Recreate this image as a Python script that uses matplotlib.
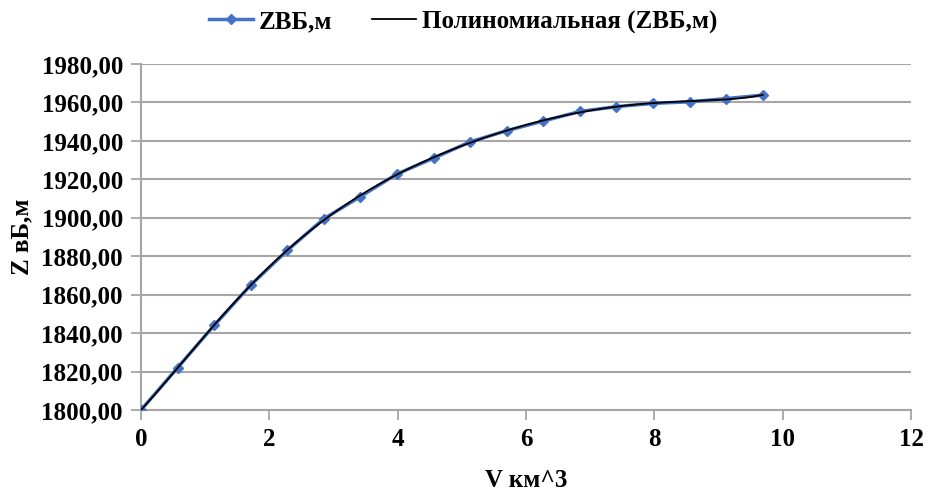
import matplotlib.pyplot as plt
import numpy as np

# объём водохранилища, км^3
v_km3 = [0.00, 0.57, 1.14, 1.71, 2.28, 2.85, 3.42, 3.99, 4.56, 5.13,
         5.70, 6.27, 6.84, 7.41, 7.98, 8.55, 9.12, 9.69]
# отметка ВБ, м
z_vb = [1800.0, 1822.0, 1844.0, 1865.0, 1883.0, 1899.5, 1911.0, 1922.8, 1931.0,
        1939.5, 1945.3, 1950.3, 1955.3, 1957.8, 1959.5, 1960.3, 1962.0, 1963.8]

y_ticks = np.arange(1800, 1981, 20)
x_ticks = np.arange(0, 13, 2)

plt.rcParams['font.family'] = ['Liberation Serif', 'DejaVu Serif']
plt.rcParams['font.weight'] = 'bold'

fig = plt.figure(figsize=(9.32, 4.92), dpi=100)
ax = fig.add_axes([0.1513, 0.1667, 0.8262, 0.7033])

blue = '#4472C4'
grid_c = '#A6A6A6'

ax.plot(v_km3, z_vb, color=blue, lw=2.5, marker='D', ms=5.5, label='ZВБ,м', zorder=3)

# полиномиальная линия тренда (степень 6, как в Excel)
coef = np.polyfit(v_km3, z_vb, 6)
xs = np.linspace(v_km3[0], v_km3[-1], 300)
ax.plot(xs, np.polyval(coef, xs), color='black', lw=1.3, label='Полиномиальная (ZВБ,м)', zorder=4)

ax.set_xlim(0, 12)
ax.set_ylim(1800, 1980)
ax.set_xticks(x_ticks)
ax.set_yticks(y_ticks)
ax.set_yticklabels([f'{t:.2f}'.replace('.', ',') for t in y_ticks])
ax.tick_params(axis='both', labelsize=18, colors=grid_c, labelcolor='black',
               length=7, width=1.3, direction='out', pad=6)
ax.grid(axis='y', color=grid_c, lw=1.5)
ax.set_axisbelow(True)
for s in ['top', 'right']:
    ax.spines[s].set_visible(False)
for s in ['left', 'bottom']:
    ax.spines[s].set_color(grid_c)
    ax.spines[s].set_linewidth(1.5)

ax.set_xlabel('V км^3', fontsize=18, fontweight='bold', labelpad=13)
ax.set_ylabel('Z вБ,м', fontsize=18, fontweight='bold', labelpad=6)

fig.legend(loc='upper center', bbox_to_anchor=(0.497, 1.025), ncol=2, frameon=False,
           fontsize=18, handlelength=1.75, columnspacing=1.6, handletextpad=0.25)

fig.savefig('out.png', dpi=100)
